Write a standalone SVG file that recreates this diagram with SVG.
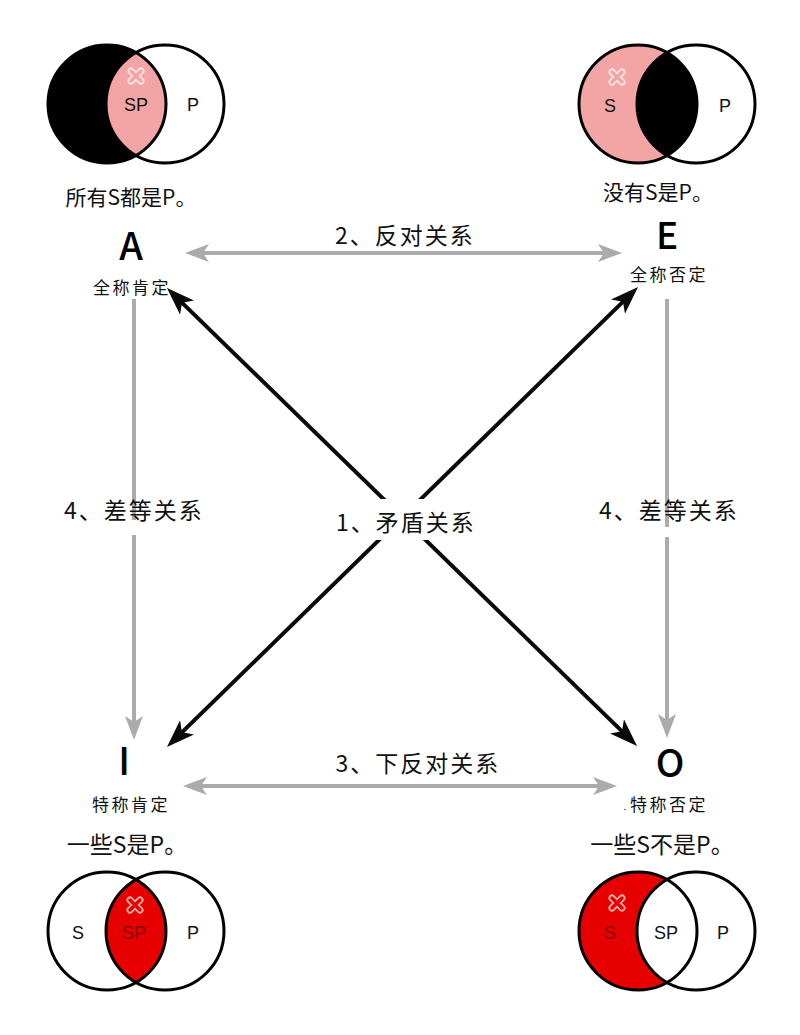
<svg xmlns="http://www.w3.org/2000/svg" width="800" height="1035" viewBox="0 0 800 1035">
<style>
.cjk{font-family:"Noto Sans CJK SC","Noto Sans",sans-serif;fill:#111;dominant-baseline:central;text-anchor:middle}
.cap{font-size:21px}
.big{font-size:23px}
.rel{font-size:23px;letter-spacing:2px}
.sub{font-size:17px;letter-spacing:2.5px}
.ltr{font-family:"Noto Sans CJK SC","Noto Sans",sans-serif;font-size:38px;font-weight:500;fill:#000;text-anchor:middle}
.vl{font-family:"Liberation Sans",Arial,sans-serif;font-size:18px;fill:#111;dominant-baseline:central;text-anchor:middle}
.ring{fill:none;stroke:#000;stroke-width:3}
.gray{stroke:#ababab;stroke-width:4;fill:none}
.blk{stroke:#0a0a0a;stroke-width:4;fill:none}
.xo{stroke-linecap:round;fill:none}
</style>
<defs>
<marker id="ag" markerUnits="userSpaceOnUse" markerWidth="26" markerHeight="20" refX="16" refY="9" orient="auto-start-reverse">
<path d="M0,0 L24,9 L0,18 L6,9 z" fill="#ababab"/>
</marker>
<marker id="ab" markerUnits="userSpaceOnUse" markerWidth="30" markerHeight="22" refX="20" refY="10" orient="auto-start-reverse">
<path d="M0,0 L28,10 L0,20 L7,10 z" fill="#0a0a0a"/>
</marker>
</defs>
<rect width="800" height="1035" fill="#fff"/>

<g id="connectors">
<line class="gray" x1="193" y1="253" x2="614" y2="253" marker-start="url(#ag)" marker-end="url(#ag)"/>
<line class="gray" x1="191" y1="786" x2="609" y2="786" marker-start="url(#ag)" marker-end="url(#ag)"/>
<line class="gray" x1="134" y1="299" x2="134" y2="520"/>
<line class="gray" x1="134" y1="535" x2="134" y2="732" marker-end="url(#ag)"/>
<line class="gray" x1="667" y1="299" x2="667" y2="527"/>
<line class="gray" x1="667" y1="537" x2="667" y2="730" marker-end="url(#ag)"/>
<line class="blk" x1="172.7" y1="293.6" x2="631.3" y2="740.4" marker-start="url(#ab)" marker-end="url(#ab)"/>
<line class="blk" x1="632.3" y1="292.6" x2="172.7" y2="741.4" marker-start="url(#ab)" marker-end="url(#ab)"/>
<rect x="328" y="499" width="154" height="41" fill="#fff"/>
<text class="cjk rel" x="405" y="234">2、反对关系</text>
<text class="cjk rel" x="418" y="762">3、下反对关系</text>
<text class="cjk rel" x="406" y="521">1、矛盾关系</text>
<text class="cjk rel" x="134" y="509">4、差等关系</text>
<text class="cjk rel" x="669" y="509">4、差等关系</text>
</g>

<g id="node-A">
<circle cx="107" cy="104" r="59" fill="#000"/>
<path d="M136,52.6 A59,59 0 0,1 136,155.4 A59,59 0 0,1 136,52.6 z" fill="#f3a5a5"/>
<g transform="translate(136,76)"><path class="xo" d="M-5,-5 L5,5 M-5,5 L5,-5" stroke="#fbe4e4" stroke-width="7"/><path class="xo" d="M-5,-5 L5,5 M-5,5 L5,-5" stroke="#f3a5a5" stroke-width="3.5"/></g>
<circle class="ring" cx="107" cy="104" r="59"/>
<circle class="ring" cx="165" cy="104" r="59"/>
<text class="vl" x="136" y="105">SP</text>
<text class="vl" x="193" y="105">P</text>
<text class="cjk cap" x="131" y="196">所有S都是P。</text>
<text class="ltr" x="131" y="260">A</text>
<text class="cjk sub" x="132" y="286">全称肯定</text>
</g>

<g id="node-E">
<circle cx="638" cy="104" r="59" fill="#f3a5a5"/>
<path d="M667,52.6 A59,59 0 0,1 667,155.4 A59,59 0 0,1 667,52.6 z" fill="#000"/>
<g transform="translate(617,77)"><path class="xo" d="M-5,-5 L5,5 M-5,5 L5,-5" stroke="#fbe4e4" stroke-width="7"/><path class="xo" d="M-5,-5 L5,5 M-5,5 L5,-5" stroke="#f3a5a5" stroke-width="3.5"/></g>
<circle class="ring" cx="638" cy="104" r="59"/>
<circle class="ring" cx="696" cy="104" r="59"/>
<text class="vl" x="610" y="106">S</text>
<text class="vl" x="725" y="106">P</text>
<text class="cjk cap" x="658" y="191">没有S是P。</text>
<text class="ltr" x="667" y="249" style="font-size:37px">E</text>
<text class="cjk sub" x="669" y="273">全称否定</text>
</g>

<g id="node-I">
<text class="ltr" x="124" y="775">I</text>
<text class="cjk sub" x="131" y="803">特称肯定</text>
<text class="cjk big" x="127" y="843">一些S是P。</text>
<circle cx="107" cy="931" r="59" fill="#fff"/>
<circle cx="165" cy="931" r="59" fill="#fff"/>
<path d="M136,879.6 A59,59 0 0,1 136,982.4 A59,59 0 0,1 136,879.6 z" fill="#e60000"/>
<g transform="translate(135,905)"><path class="xo" d="M-5,-5 L5,5 M-5,5 L5,-5" stroke="#f6b4a8" stroke-width="7"/><path class="xo" d="M-5,-5 L5,5 M-5,5 L5,-5" stroke="#e60000" stroke-width="3.5"/></g>
<circle class="ring" cx="107" cy="931" r="59"/>
<circle class="ring" cx="165" cy="931" r="59"/>
<text class="vl" x="78" y="933">S</text>
<text class="vl" x="134" y="933" style="fill:#8a0000">SP</text>
<text class="vl" x="193" y="933">P</text>
</g>

<g id="node-O">
<text class="ltr" x="670" y="777">O</text>
<text class="cjk" x="625" y="805" style="font-size:10px">.</text>
<text class="cjk sub" x="669" y="803">特称否定</text>
<text class="cjk big" x="662" y="843">一些S不是P。</text>
<circle cx="638" cy="931" r="59" fill="#e60000"/>
<path d="M667,879.6 A59,59 0 0,1 667,982.4 A59,59 0 0,1 667,879.6 z" fill="#fff"/>
<g transform="translate(617,903)"><path class="xo" d="M-5,-5 L5,5 M-5,5 L5,-5" stroke="#f6b4a8" stroke-width="7"/><path class="xo" d="M-5,-5 L5,5 M-5,5 L5,-5" stroke="#e60000" stroke-width="3.5"/></g>
<circle class="ring" cx="638" cy="931" r="59"/>
<circle class="ring" cx="696" cy="931" r="59"/>
<text class="vl" x="610" y="933" style="fill:#8a0000">S</text>
<text class="vl" x="666" y="933">SP</text>
<text class="vl" x="723" y="933">P</text>
</g>
</svg>
